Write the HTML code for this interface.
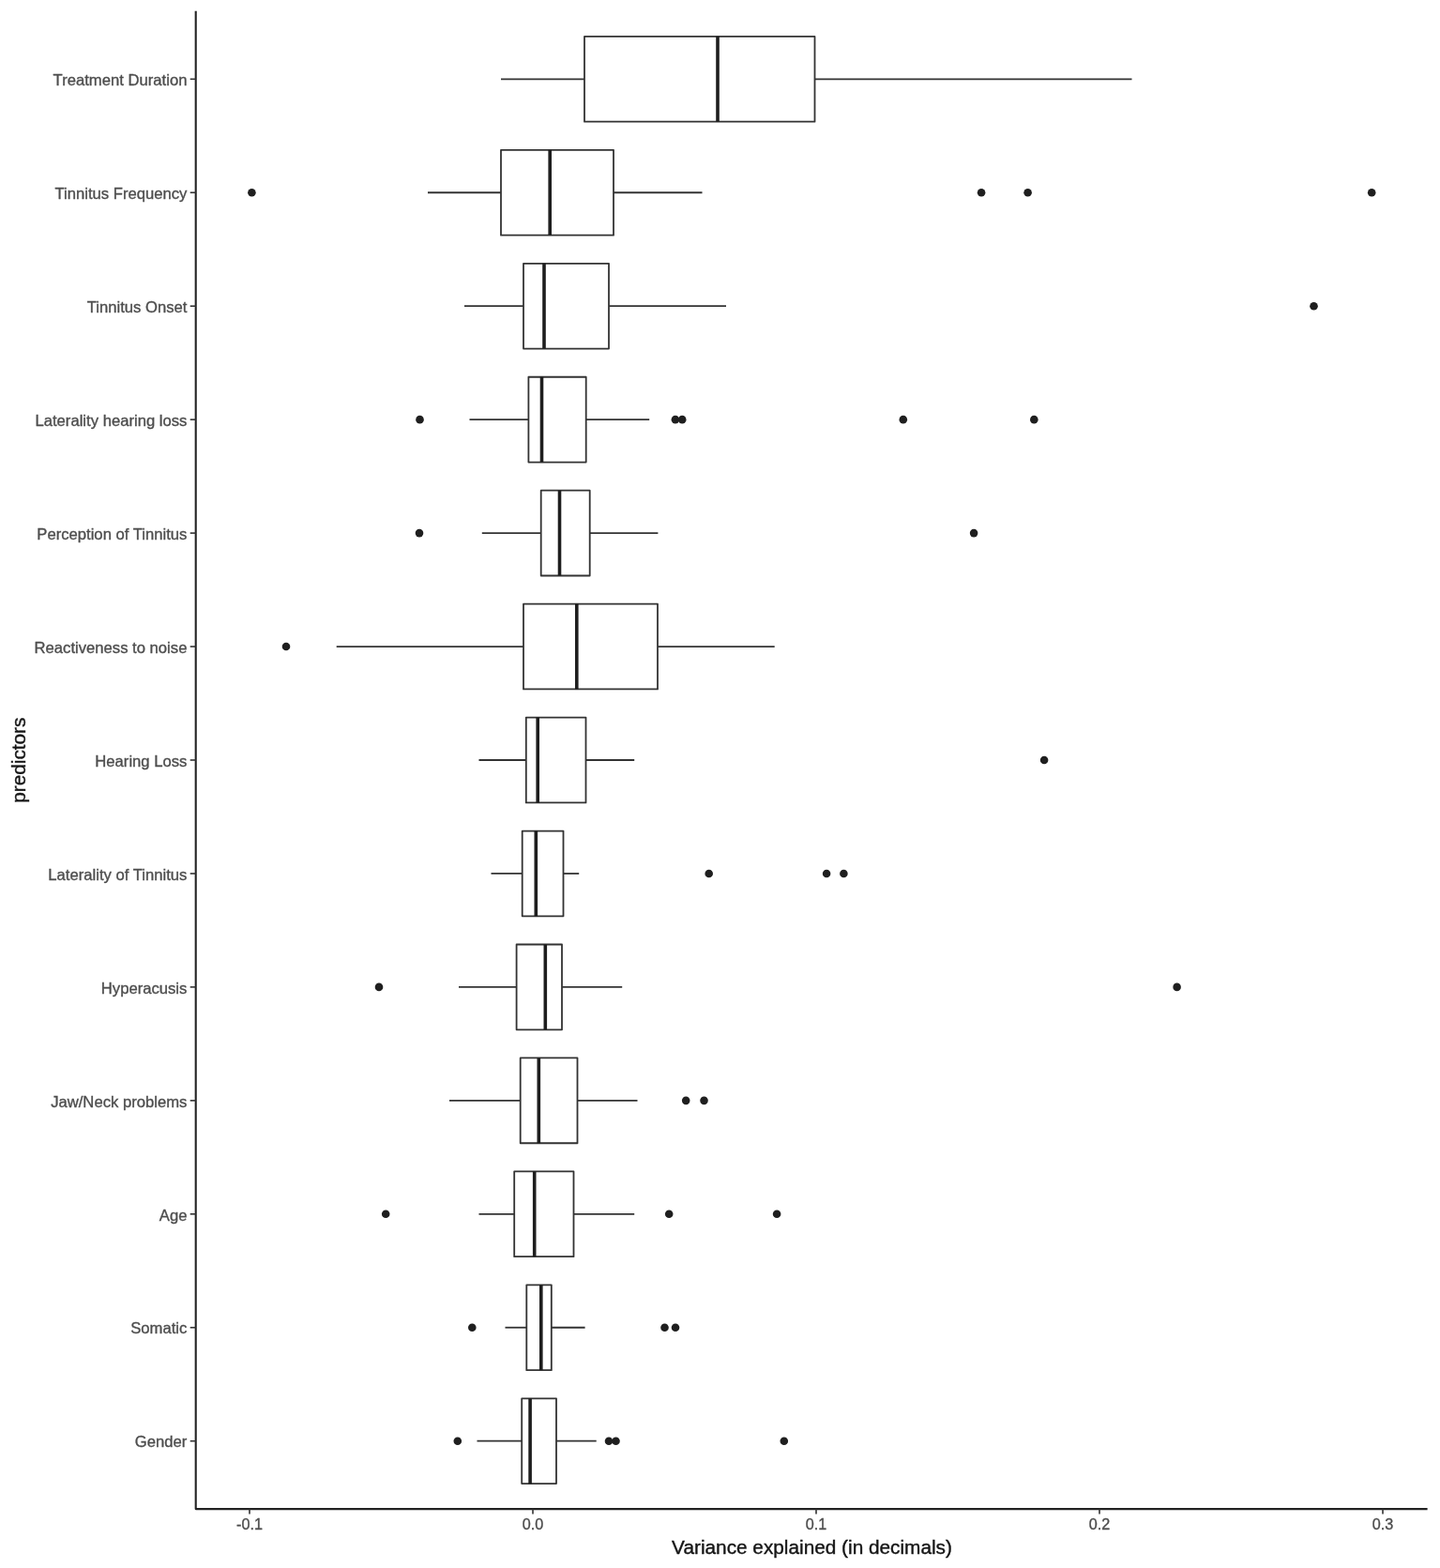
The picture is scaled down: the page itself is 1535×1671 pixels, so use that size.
<!DOCTYPE html>
<html lang="en"><head><meta charset="utf-8"><title>Variance explained by predictors</title>
<style>
html,body{margin:0;padding:0;background:#fff;}
body{width:1535px;height:1671px;overflow:hidden;}
svg{display:block;}
text{font-family:"Liberation Sans",Arial,Helvetica,sans-serif;}
.tk{font-size:16.65px;fill:#4d4d4d;stroke:#4d4d4d;stroke-width:0.35px;}
.xt{font-size:16.2px;}
.ti{font-size:20.8px;fill:#151515;stroke:#151515;stroke-width:0.4px;}
</style></head><body>
<svg width="1535" height="1671" viewBox="0 0 1535 1671">
<rect width="1535" height="1671" fill="#ffffff"/>
<g>
<line x1="534" y1="84.3" x2="623" y2="84.3" stroke="#333333" stroke-width="1.8"/>
<line x1="868.5" y1="84.3" x2="1206.5" y2="84.3" stroke="#333333" stroke-width="1.8"/>
<rect x="623" y="38.9" width="245.5" height="90.8" fill="#fff" stroke="#333333" stroke-width="1.8" stroke-linejoin="round"/>
<line x1="765" y1="38.9" x2="765" y2="129.7" stroke="#1e1e1e" stroke-width="3.6"/>
</g>
<g>
<line x1="456" y1="205.25" x2="534" y2="205.25" stroke="#333333" stroke-width="1.8"/>
<line x1="654" y1="205.25" x2="748.5" y2="205.25" stroke="#333333" stroke-width="1.8"/>
<rect x="534" y="159.85" width="120" height="90.8" fill="#fff" stroke="#333333" stroke-width="1.8" stroke-linejoin="round"/>
<line x1="586.2" y1="159.85" x2="586.2" y2="250.65" stroke="#1e1e1e" stroke-width="3.6"/>
<circle cx="268.4" cy="205.25" r="4.3" fill="#1f1f1f"/>
<circle cx="1046.1" cy="205.25" r="4.3" fill="#1f1f1f"/>
<circle cx="1095.6" cy="205.25" r="4.3" fill="#1f1f1f"/>
<circle cx="1462.2" cy="205.25" r="4.3" fill="#1f1f1f"/>
</g>
<g>
<line x1="495" y1="326.2" x2="558" y2="326.2" stroke="#333333" stroke-width="1.8"/>
<line x1="649" y1="326.2" x2="774" y2="326.2" stroke="#333333" stroke-width="1.8"/>
<rect x="558" y="280.8" width="91" height="90.8" fill="#fff" stroke="#333333" stroke-width="1.8" stroke-linejoin="round"/>
<line x1="580" y1="280.8" x2="580" y2="371.59999999999997" stroke="#1e1e1e" stroke-width="3.6"/>
<circle cx="1400.5" cy="326.2" r="4.3" fill="#1f1f1f"/>
</g>
<g>
<line x1="500.5" y1="447.15" x2="563.4" y2="447.15" stroke="#333333" stroke-width="1.8"/>
<line x1="624.7" y1="447.15" x2="692.2" y2="447.15" stroke="#333333" stroke-width="1.8"/>
<rect x="563.4" y="401.75" width="61.30000000000007" height="90.8" fill="#fff" stroke="#333333" stroke-width="1.8" stroke-linejoin="round"/>
<line x1="577.5" y1="401.75" x2="577.5" y2="492.54999999999995" stroke="#1e1e1e" stroke-width="3.6"/>
<circle cx="447.5" cy="447.15" r="4.3" fill="#1f1f1f"/>
<circle cx="719.9" cy="447.15" r="4.3" fill="#1f1f1f"/>
<circle cx="727.2" cy="447.15" r="4.3" fill="#1f1f1f"/>
<circle cx="962.8" cy="447.15" r="4.3" fill="#1f1f1f"/>
<circle cx="1102.3" cy="447.15" r="4.3" fill="#1f1f1f"/>
</g>
<g>
<line x1="513.8" y1="568.1" x2="576.7" y2="568.1" stroke="#333333" stroke-width="1.8"/>
<line x1="628.7" y1="568.1" x2="701.4" y2="568.1" stroke="#333333" stroke-width="1.8"/>
<rect x="576.7" y="522.7" width="52.0" height="90.8" fill="#fff" stroke="#333333" stroke-width="1.8" stroke-linejoin="round"/>
<line x1="596.5" y1="522.7" x2="596.5" y2="613.5" stroke="#1e1e1e" stroke-width="3.6"/>
<circle cx="447" cy="568.1" r="4.3" fill="#1f1f1f"/>
<circle cx="1038.1" cy="568.1" r="4.3" fill="#1f1f1f"/>
</g>
<g>
<line x1="358.7" y1="689.05" x2="558" y2="689.05" stroke="#333333" stroke-width="1.8"/>
<line x1="701" y1="689.05" x2="825.7" y2="689.05" stroke="#333333" stroke-width="1.8"/>
<rect x="558" y="643.65" width="143" height="90.8" fill="#fff" stroke="#333333" stroke-width="1.8" stroke-linejoin="round"/>
<line x1="614.8" y1="643.65" x2="614.8" y2="734.4499999999999" stroke="#1e1e1e" stroke-width="3.6"/>
<circle cx="305" cy="689.05" r="4.3" fill="#1f1f1f"/>
</g>
<g>
<line x1="510.5" y1="810.0" x2="560.8" y2="810.0" stroke="#333333" stroke-width="1.8"/>
<line x1="624.5" y1="810.0" x2="676.2" y2="810.0" stroke="#333333" stroke-width="1.8"/>
<rect x="560.8" y="764.6" width="63.700000000000045" height="90.8" fill="#fff" stroke="#333333" stroke-width="1.8" stroke-linejoin="round"/>
<line x1="573.2" y1="764.6" x2="573.2" y2="855.4" stroke="#1e1e1e" stroke-width="3.6"/>
<circle cx="1113.1" cy="810.0" r="4.3" fill="#1f1f1f"/>
</g>
<g>
<line x1="523.5" y1="930.95" x2="556.7" y2="930.95" stroke="#333333" stroke-width="1.8"/>
<line x1="600.5" y1="930.95" x2="617.2" y2="930.95" stroke="#333333" stroke-width="1.8"/>
<rect x="556.7" y="885.5500000000001" width="43.799999999999955" height="90.8" fill="#fff" stroke="#333333" stroke-width="1.8" stroke-linejoin="round"/>
<line x1="571.3" y1="885.5500000000001" x2="571.3" y2="976.35" stroke="#1e1e1e" stroke-width="3.6"/>
<circle cx="755.7" cy="930.95" r="4.3" fill="#1f1f1f"/>
<circle cx="881.1" cy="930.95" r="4.3" fill="#1f1f1f"/>
<circle cx="899.4" cy="930.95" r="4.3" fill="#1f1f1f"/>
</g>
<g>
<line x1="489" y1="1051.9" x2="550.6" y2="1051.9" stroke="#333333" stroke-width="1.8"/>
<line x1="599" y1="1051.9" x2="663.2" y2="1051.9" stroke="#333333" stroke-width="1.8"/>
<rect x="550.6" y="1006.5000000000001" width="48.39999999999998" height="90.8" fill="#fff" stroke="#333333" stroke-width="1.8" stroke-linejoin="round"/>
<line x1="581.3" y1="1006.5000000000001" x2="581.3" y2="1097.3000000000002" stroke="#1e1e1e" stroke-width="3.6"/>
<circle cx="404" cy="1051.9" r="4.3" fill="#1f1f1f"/>
<circle cx="1254.6" cy="1051.9" r="4.3" fill="#1f1f1f"/>
</g>
<g>
<line x1="479" y1="1172.85" x2="554.7" y2="1172.85" stroke="#333333" stroke-width="1.8"/>
<line x1="615.5" y1="1172.85" x2="679.5" y2="1172.85" stroke="#333333" stroke-width="1.8"/>
<rect x="554.7" y="1127.4499999999998" width="60.799999999999955" height="90.8" fill="#fff" stroke="#333333" stroke-width="1.8" stroke-linejoin="round"/>
<line x1="574.3" y1="1127.4499999999998" x2="574.3" y2="1218.25" stroke="#1e1e1e" stroke-width="3.6"/>
<circle cx="731.2" cy="1172.85" r="4.3" fill="#1f1f1f"/>
<circle cx="750.5" cy="1172.85" r="4.3" fill="#1f1f1f"/>
</g>
<g>
<line x1="510.5" y1="1293.8" x2="548.2" y2="1293.8" stroke="#333333" stroke-width="1.8"/>
<line x1="611.5" y1="1293.8" x2="676.2" y2="1293.8" stroke="#333333" stroke-width="1.8"/>
<rect x="548.2" y="1248.3999999999999" width="63.299999999999955" height="90.8" fill="#fff" stroke="#333333" stroke-width="1.8" stroke-linejoin="round"/>
<line x1="569.7" y1="1248.3999999999999" x2="569.7" y2="1339.2" stroke="#1e1e1e" stroke-width="3.6"/>
<circle cx="411.2" cy="1293.8" r="4.3" fill="#1f1f1f"/>
<circle cx="713.2" cy="1293.8" r="4.3" fill="#1f1f1f"/>
<circle cx="828.1" cy="1293.8" r="4.3" fill="#1f1f1f"/>
</g>
<g>
<line x1="538.5" y1="1414.75" x2="561.3" y2="1414.75" stroke="#333333" stroke-width="1.8"/>
<line x1="587.8" y1="1414.75" x2="623.6" y2="1414.75" stroke="#333333" stroke-width="1.8"/>
<rect x="561.3" y="1369.35" width="26.5" height="90.8" fill="#fff" stroke="#333333" stroke-width="1.8" stroke-linejoin="round"/>
<line x1="576.8" y1="1369.35" x2="576.8" y2="1460.15" stroke="#1e1e1e" stroke-width="3.6"/>
<circle cx="503.3" cy="1414.75" r="4.3" fill="#1f1f1f"/>
<circle cx="708.5" cy="1414.75" r="4.3" fill="#1f1f1f"/>
<circle cx="720" cy="1414.75" r="4.3" fill="#1f1f1f"/>
</g>
<g>
<line x1="508.5" y1="1535.7" x2="556.2" y2="1535.7" stroke="#333333" stroke-width="1.8"/>
<line x1="593" y1="1535.7" x2="635.7" y2="1535.7" stroke="#333333" stroke-width="1.8"/>
<rect x="556.2" y="1490.3" width="36.799999999999955" height="90.8" fill="#fff" stroke="#333333" stroke-width="1.8" stroke-linejoin="round"/>
<line x1="565.1" y1="1490.3" x2="565.1" y2="1581.1000000000001" stroke="#1e1e1e" stroke-width="3.6"/>
<circle cx="487.8" cy="1535.7" r="4.3" fill="#1f1f1f"/>
<circle cx="649" cy="1535.7" r="4.3" fill="#1f1f1f"/>
<circle cx="656.5" cy="1535.7" r="4.3" fill="#1f1f1f"/>
<circle cx="835.8" cy="1535.7" r="4.3" fill="#1f1f1f"/>
</g>
<polyline points="208.7,11.7 208.7,1608.1 1521.6,1608.1" fill="none" stroke="#222222" stroke-width="2.1" stroke-linejoin="round"/>
<line x1="202.7" y1="84.3" x2="208.7" y2="84.3" stroke="#333333" stroke-width="1.6"/>
<text class="tk" transform="translate(199.4,91.0) scale(1,0.965)" text-anchor="end">Treatment Duration</text>
<line x1="202.7" y1="205.25" x2="208.7" y2="205.25" stroke="#333333" stroke-width="1.6"/>
<text class="tk" transform="translate(199.4,211.95) scale(1,0.965)" text-anchor="end">Tinnitus Frequency</text>
<line x1="202.7" y1="326.2" x2="208.7" y2="326.2" stroke="#333333" stroke-width="1.6"/>
<text class="tk" transform="translate(199.4,332.9) scale(1,0.965)" text-anchor="end">Tinnitus Onset</text>
<line x1="202.7" y1="447.15" x2="208.7" y2="447.15" stroke="#333333" stroke-width="1.6"/>
<text class="tk" transform="translate(199.4,453.85) scale(1,0.965)" text-anchor="end">Laterality hearing loss</text>
<line x1="202.7" y1="568.1" x2="208.7" y2="568.1" stroke="#333333" stroke-width="1.6"/>
<text class="tk" transform="translate(199.4,574.8) scale(1,0.965)" text-anchor="end">Perception of Tinnitus</text>
<line x1="202.7" y1="689.05" x2="208.7" y2="689.05" stroke="#333333" stroke-width="1.6"/>
<text class="tk" transform="translate(199.4,695.75) scale(1,0.965)" text-anchor="end">Reactiveness to noise</text>
<line x1="202.7" y1="810.0" x2="208.7" y2="810.0" stroke="#333333" stroke-width="1.6"/>
<text class="tk" transform="translate(199.4,816.7) scale(1,0.965)" text-anchor="end">Hearing Loss</text>
<line x1="202.7" y1="930.95" x2="208.7" y2="930.95" stroke="#333333" stroke-width="1.6"/>
<text class="tk" transform="translate(199.4,937.65) scale(1,0.965)" text-anchor="end">Laterality of Tinnitus</text>
<line x1="202.7" y1="1051.9" x2="208.7" y2="1051.9" stroke="#333333" stroke-width="1.6"/>
<text class="tk" transform="translate(199.4,1058.6) scale(1,0.965)" text-anchor="end">Hyperacusis</text>
<line x1="202.7" y1="1172.85" x2="208.7" y2="1172.85" stroke="#333333" stroke-width="1.6"/>
<text class="tk" transform="translate(199.4,1179.55) scale(1,0.965)" text-anchor="end">Jaw/Neck problems</text>
<line x1="202.7" y1="1293.8" x2="208.7" y2="1293.8" stroke="#333333" stroke-width="1.6"/>
<text class="tk" transform="translate(199.4,1300.5) scale(1,0.965)" text-anchor="end">Age</text>
<line x1="202.7" y1="1414.75" x2="208.7" y2="1414.75" stroke="#333333" stroke-width="1.6"/>
<text class="tk" transform="translate(199.4,1421.45) scale(1,0.965)" text-anchor="end">Somatic</text>
<line x1="202.7" y1="1535.7" x2="208.7" y2="1535.7" stroke="#333333" stroke-width="1.6"/>
<text class="tk" transform="translate(199.4,1542.4) scale(1,0.965)" text-anchor="end">Gender</text>
<line x1="266" y1="1608.1" x2="266" y2="1613.6" stroke="#333333" stroke-width="1.6"/>
<text class="tk xt" transform="translate(266,1630.2) scale(1,0.975)" text-anchor="middle">-0.1</text>
<line x1="568" y1="1608.1" x2="568" y2="1613.6" stroke="#333333" stroke-width="1.6"/>
<text class="tk xt" transform="translate(568,1630.2) scale(1,0.975)" text-anchor="middle">0.0</text>
<line x1="870" y1="1608.1" x2="870" y2="1613.6" stroke="#333333" stroke-width="1.6"/>
<text class="tk xt" transform="translate(870,1630.2) scale(1,0.975)" text-anchor="middle">0.1</text>
<line x1="1172" y1="1608.1" x2="1172" y2="1613.6" stroke="#333333" stroke-width="1.6"/>
<text class="tk xt" transform="translate(1172,1630.2) scale(1,0.975)" text-anchor="middle">0.2</text>
<line x1="1474" y1="1608.1" x2="1474" y2="1613.6" stroke="#333333" stroke-width="1.6"/>
<text class="tk xt" transform="translate(1474,1630.2) scale(1,0.975)" text-anchor="middle">0.3</text>
<text class="ti" transform="translate(865.5,1655.7) scale(1,0.965)" text-anchor="middle">Variance explained (in decimals)</text>
<text class="ti" transform="translate(27.3,810.2) rotate(-90) scale(1,0.965)" text-anchor="middle">predictors</text>
</svg>
</body></html>
